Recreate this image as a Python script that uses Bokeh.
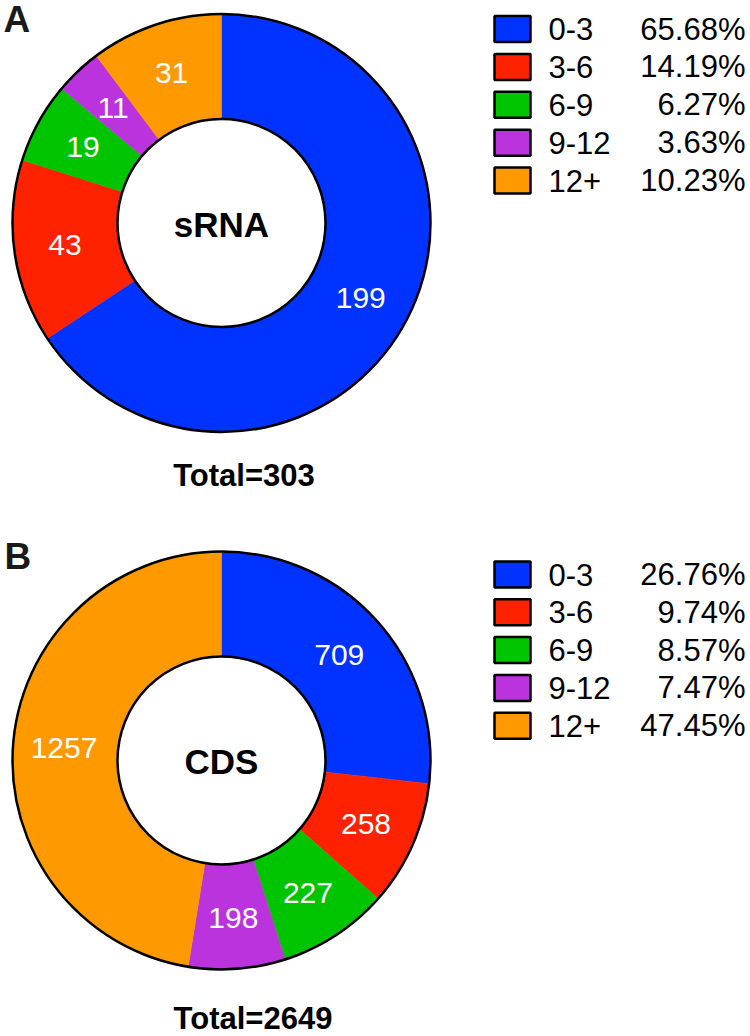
import numpy as np
from bokeh.plotting import figure
from bokeh.models import Range1d, ColumnDataSource
from bokeh.core.properties import value
from bokeh.embed import file_html
from bokeh.resources import INLINE

# ---------------- data ----------------
categories = ["0-3", "3-6", "6-9", "9-12", "12+"]
colors = ["#0033FF", "#FF2200", "#00C400", "#BB33DD", "#FF9900"]
srna_counts = [199, 43, 19, 11, 31]
srna_pct = ["65.68%", "14.19%", "6.27%", "3.63%", "10.23%"]
cds_counts = [709, 258, 227, 198, 1257]
cds_pct = ["26.76%", "9.74%", "8.57%", "7.47%", "47.45%"]
panel_names = ["sRNA", "CDS"]
panel_letters = ["A", "B"]

FONT = value("Liberation Sans")

W, H = 750, 1036
p = figure(width=W, height=H, output_backend="svg", toolbar_location=None,
           x_range=Range1d(0, W), y_range=Range1d(-H, 0),
           min_border=0, outline_line_color=None)
p.axis.visible = False
p.grid.visible = False
p.background_fill_color = "white"

R_OUT, R_IN = 209, 104
R_LAB = 158


def donut(counts, pct, name, letter, cx, cy, name_y, total_xy, letter_xy, leg_y0, leg_dy):
    counts = np.array(counts, dtype=float)
    total = counts.sum()
    frac = counts / total
    c1 = np.cumsum(frac)
    c0 = c1 - frac
    start = np.pi / 2 - 2 * np.pi * c0
    end = np.pi / 2 - 2 * np.pi * c1
    mid = np.pi / 2 - 2 * np.pi * (c0 + c1) / 2
    src = ColumnDataSource(dict(
        x=[cx] * len(counts), y=[cy] * len(counts), start=start, end=end,
        color=colors, lx=cx + R_LAB * np.cos(mid), ly=cy + R_LAB * np.sin(mid),
        label=[str(int(c)) for c in counts]))
    p.annular_wedge(x="x", y="y", inner_radius=R_IN, outer_radius=R_OUT,
                    start_angle="start", end_angle="end", direction="clock",
                    fill_color="color", line_color="color", line_width=0.5, source=src)
    p.circle(x=[cx], y=[cy], radius=R_OUT, fill_color=None, line_color="black", line_width=2.5)
    p.circle(x=[cx], y=[cy], radius=R_IN, fill_color=None, line_color="black", line_width=2.5)
    p.text(x="lx", y="ly", text="label", source=src, text_color="white",
           text_font=FONT, text_font_size="30px", text_align="center", text_baseline="middle")
    p.text(x=[cx], y=[name_y], text=[name], text_color="black", text_font=FONT,
           text_font_size="35px", text_font_style="bold", text_align="center",
           text_baseline="middle")
    p.text(x=[total_xy[0]], y=[total_xy[1]], text=["Total=%d" % int(total)], text_color="black",
           text_font=FONT, text_font_size="31px", text_font_style="bold",
           text_align="center", text_baseline="middle")
    p.text(x=[letter_xy[0]], y=[letter_xy[1]], text=[letter], text_color="#1a1a1a",
           text_font=FONT, text_font_size="37px", text_font_style="bold",
           text_align="left", text_baseline="middle")
    ly = [leg_y0 - i * leg_dy for i in range(len(counts))]
    lsrc = ColumnDataSource(dict(y=ly, color=colors, cat=categories, pct=pct,
                                 sx=[512] * len(ly), tx=[548] * len(ly), px=[745] * len(ly)))
    p.rect(x="sx", y="y", width=36, height=26, fill_color="color", line_color="black",
           line_width=2.5, source=lsrc)
    p.text(x="tx", y="y", text="cat", source=lsrc, text_color="black", text_font=FONT,
           text_font_size="31px", text_align="left", text_baseline="middle")
    p.text(x="px", y="y", text="pct", source=lsrc, text_color="black", text_font=FONT,
           text_font_size="31px", text_align="right", text_baseline="middle")


donut(srna_counts, srna_pct, panel_names[0], panel_letters[0], 221, -222.5, -223.5,
      (243.5, -474.5), (3, -18.5), -28.5, 37.9)
donut(cds_counts, cds_pct, panel_names[1], panel_letters[1], 221, -760, -760.5,
      (252.5, -1018), (4, -556), -574, 37.8)

open("out.html", "w").write(file_html(p, INLINE))
